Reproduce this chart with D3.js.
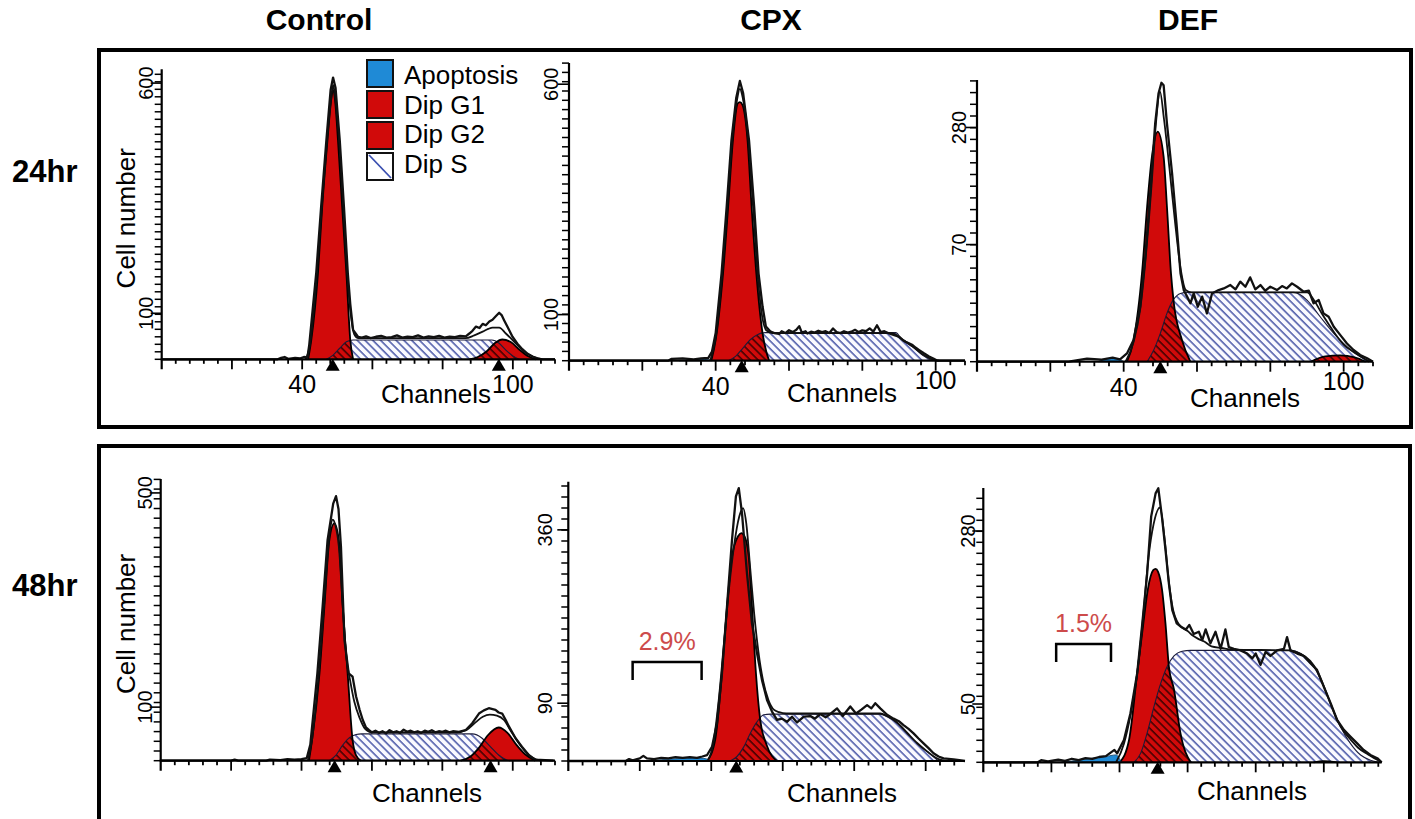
<!DOCTYPE html>
<html>
<head>
<meta charset="utf-8">
<script src="https://cdn.jsdelivr.net/npm/d3@7"></script>
<style>
  body { margin: 0; background: #fff; }
  text { font-family: Arial, "Liberation Sans", Helvetica, sans-serif; }
</style>
</head>
<body>
<div id="chart"></div>
<script>
// histogram data, [channel, cell number]

// Control 24hr
const ctl24G1 = [[41.7,0],[42.6,42],[44.5,187],[45.7,331],[47.2,476],[48.2,560],[48.8,585],[49.4,560],[50.2,476],[51.4,331],[52.6,187],[53.7,42],[54.5,0]];
const ctl24G2 = [[87.6,0],[90,5],[92.5,17],[95,36],[97,43],[99.5,37],[102,20],[104.5,6],[106.5,0]];
const ctl24S = [[46.9,0],[48.8,9],[50.7,24],[52.6,38],[54.5,42],[94,42],[96.1,35],[98,20],[99.9,8],[101.8,0]];
const ctl24Apop = [];
const ctl24Raw = [[0,0],[33,0],[34,3],[35,5],[36,1],[38,3],[39.5,2],[40.5,5],[41.5,4],[42,30],[44,187],[45.4,331],[46.9,476],[48.1,585],[48.8,612],[49.5,590],[50.7,476],[51.9,331],[53,187],[53.7,120],[54.5,64],[55.9,49],[57,47],[58.2,50],[59.5,46],[61,49],[62.5,51],[64,47],[65.5,48],[67,52],[68.5,47],[70,49],[71.5,48],[73,52],[74.5,47],[76,50],[77.5,48],[79,51],[80.5,47],[82,49],[83.5,48],[85,51],[86.6,50],[87.6,56],[88.5,62],[89.5,71],[90.5,68],[91.4,77],[92.3,74],[93.3,82],[94.2,86],[95.2,94],[96.1,101],[96.8,96],[97.5,85],[98.5,70],[99.9,49],[101.3,34],[102.7,22],[104.2,12],[105.6,6],[107,2],[108.4,0],[112,0]];
const ctl24Fit = [[41,0],[42.2,30],[44.2,187],[45.6,331],[47.1,476],[48.3,570],[48.8,596],[49.3,575],[50.5,476],[51.7,331],[52.8,187],[53.8,100],[54.8,55],[56,46],[86.6,46],[89,52],[91.4,60],[93,66],[94.2,69],[96.1,69],[98,56],[100.4,38],[102.7,20],[105.6,6],[108.4,0]];
const ctl24Marks = [48.7, 96];

// CPX 24hr
const cpx24G1 = [[38.8,0],[40,45],[42,189],[43.4,334],[44.7,478],[46,558],[46.6,561],[47.3,555],[48.7,478],[49.8,334],[51.1,189],[52.8,59],[53.8,20],[54.6,0]];
const cpx24G2 = [];
const cpx24S = [[43.5,0],[45.5,10],[47.5,28],[49.5,46],[51.5,57],[53.5,61],[89.1,61],[90.9,45],[93.7,30],[96.4,12],[99.1,0]];
const cpx24Apop = [[30,0],[33,2],[36,3],[38,2],[39,0]];
const cpx24Raw = [[0,0],[27,0],[28,4],[31,5],[34,3],[36,5],[38,6],[39,20],[40,60],[41.6,189],[43,334],[44.3,478],[45.6,570],[46.6,607],[47.5,580],[49.1,478],[50.5,334],[51.7,189],[52.8,117],[53.7,74],[55,63],[56,60],[57.3,58],[58,64],[59,60],[60,66],[61,62],[62,67],[62.8,75],[63.5,61],[64.5,64],[65,59],[66,63],[67,61],[68,65],[69,62],[70,64],[71,60],[72,70],[73,62],[74,60],[75,64],[76,61],[77,63],[78,67],[79,62],[80,66],[81,64],[82,70],[83,63],[84,77],[85,62],[86,64],[87.3,59],[88.5,56],[90,52],[91,45],[91.8,41],[92.7,38],[93.7,34],[94.6,28],[95.5,23],[96.8,16],[98.2,9],[99.5,4],[100.5,0],[108,0]];
const cpx24Fit = [[38.5,0],[40,50],[41.8,189],[43.2,334],[44.5,478],[45.8,565],[46.6,590],[47.4,570],[48.9,478],[50.2,334],[51.4,189],[52.6,100],[53.8,66],[55.5,60],[88,60],[90.9,46],[93.7,31],[96.4,14],[99.1,3],[101,0]];
const cpx24Marks = [47.1];

// DEF 24hr (sqrt axis)
const def24G1 = [[40.9,0],[42.7,2.4],[45,40],[46.4,123],[47.7,214],[49.3,270],[50.9,214],[51.8,123],[52.9,40],[53.6,19],[55.9,2.4],[58.2,0]];
const def24G2 = [[91,0],[95,0.15],[99,0.2],[103,0.1],[106,0]];
const def24S = [[46.4,0],[48.2,0.7],[50,4.1],[51.8,11.9],[53.6,19.8],[55.5,23.8],[57.3,24.5],[86.4,24.5],[90,19.4],[93.6,10.3],[97.3,4.1],[100.9,1.15],[104.5,0.13],[107.3,0]];
const def24Apop = [[33,0],[36,0.05],[38.5,0.04],[40,0]];
const def24Raw = [[0,0],[25,0],[30,0.05],[34,0.02],[37,0.08],[39,0.03],[40.9,0.35],[42.7,2.4],[44.5,15.4],[45.9,56],[47.3,150],[48.6,290],[49.5,367],[50.3,397],[50.9,390],[51.8,290],[53.2,181],[54.4,98],[55.5,40],[56.4,26],[57.3,21.6],[58.2,17.4],[59.1,23.8],[60.2,15.4],[61.4,21.6],[62.7,11.9],[64.1,23.8],[65.9,26.2],[67.3,27.4],[69.1,30],[70.5,26.7],[71.8,32.7],[73.2,28.7],[74.5,36.3],[75.9,26.7],[77.3,30],[78.6,25.7],[80,28.7],[81.8,26.2],[83.2,29.2],[84.5,27.4],[85.9,31.3],[87.3,28.7],[89.1,25],[90.5,25.7],[91.8,17.4],[93.2,19.4],[94.5,11.9],[95.9,10.3],[97.3,6.25],[99.1,3.6],[100.9,1.7],[102.7,0.7],[104.5,0.23],[106.4,0.06],[108,0]];
const def24Fit = [[40.5,0],[42.7,2],[44.5,14],[46,55],[47.5,150],[48.8,290],[49.9,372],[51,300],[52.5,190],[54,100],[55.5,45],[57,26],[58.5,24.5],[90,24.5],[92,19],[94,12],[96,7],[98,3.5],[100,1.5],[103,0.4],[107,0]];
const def24Marks = [50];

// Control 48hr
const ctl48G1 = [[42.1,0],[43,39],[45.1,163],[46.5,288],[47.9,412],[49.3,443],[50.6,412],[51.7,288],[53.1,163],[54.5,39],[55.5,10],[56.9,0]];
const ctl48G2 = [[85.2,0],[88,8],[90.5,25],[93,48],[96,62],[98.5,52],[101,30],[103.5,12],[106.4,0]];
const ctl48S = [[47.9,0],[49.8,10.6],[51.7,29],[53.6,43],[55.5,49],[57,50],[88.5,50],[91.3,42],[93.7,26],[96,10.6],[98.4,1],[99.3,0]];
const ctl48Apop = [];
const ctl48Raw = [[0,0],[20,0],[21,2],[22,0],[30,0],[31,2],[34,1],[36,3],[38,2],[40,3],[41.5,5],[42.5,30],[44.5,163],[46,288],[47.4,412],[49,480],[49.8,494],[50.5,470],[51.2,400],[52.2,225],[53.4,163],[54.5,157],[55.5,120],[56.5,95],[57.4,76],[58.3,62],[59.2,57],[60,53],[61,56],[62,52],[63,55],[64,51],[65,57],[66,53],[67,55],[68,52],[69,58],[70,54],[71,56],[72,53],[73,55],[74,52],[75,56],[76,54],[77,57],[78,53],[79,55],[80,54],[81,56],[82,53],[83,55],[84.7,54],[86.6,57],[88.5,70],[90.4,88],[91.8,94],[93.2,98],[95.1,95],[96,90],[97,88],[98,76],[98.9,64],[100.8,42],[102.6,26],[104.5,11],[106.4,2],[109.2,1],[111.6,0]];
const ctl48Fit = [[41.8,0],[43,40],[45,170],[46.5,300],[47.9,420],[48.9,450],[49.6,440],[50.6,400],[51.7,290],[52.8,190],[53.8,150],[55,110],[56.5,80],[58,60],[60,53],[84,53],[87,58],[89.5,72],[91.5,82],[93.5,86],[95.5,84],[97.5,76],[99.5,55],[101.5,35],[103.5,18],[105.5,6],[108,0]];
const ctl48Marks = [49.4, 93.7];

// CPX 48hr
const cpx48G1 = [[38.8,0],[41.1,33],[43,137],[44.4,240],[45.8,318],[47.5,350],[48.4,355],[49.3,350],[50.5,318],[51.4,240],[52.5,137],[53.7,64],[55.5,25],[58.4,0]];
const cpx48G2 = [];
const cpx48S = [[45.3,0],[47.2,7],[49.1,22],[50.9,43],[52.8,61],[54.7,72],[56.5,73],[87.3,73],[89.2,69],[92,59],[94.8,43],[97.6,27.5],[100.4,14.5],[103.6,0]];
const cpx48Apop = [[22,0],[26,2],[30,3.5],[34,4.5],[37,4.5],[38.8,3],[39.5,0]];
const cpx48Raw = [[0,0],[16,0],[17,3],[18,1],[20,4],[21,8],[22,4],[24,3],[26,5],[28,4],[30,6],[32,5],[34,6],[36,5],[37.5,7],[38.8,9],[40.2,22],[41.6,59],[43,137],[44.4,240],[45.8,344],[46.9,412],[47.7,425],[48.6,386],[50,292],[51.4,214],[52.8,168],[54.2,126],[55.6,95],[57,77],[58.4,64],[59.8,66],[61.2,61],[62.6,69],[64,60],[65.9,69],[67.7,70],[69,66],[70.5,73],[72,68],[73.5,74],[75.2,82],[76.8,70],[78.9,85],[80.5,74],[82,80],[83.6,87],[84.8,82],[85.9,90],[87.3,82],[89.2,72],[91,66],[92.5,62],[93.8,56],[95.2,50],[96.6,43],[98,35],[99.4,27.5],[100.8,20],[102.2,12],[103.6,7],[105,4],[107.8,2.6],[111,0]];
const cpx48Fit = [[39,0],[40.5,25],[42,90],[43.5,180],[45,270],[46.5,340],[47.8,380],[48.9,394],[49.8,370],[50.9,300],[52,230],[53.2,170],[54.5,125],[56,95],[57.5,80],[59,76],[61,74],[87.3,74],[89.2,70],[92,60],[94.8,44],[97.6,28],[100.4,15],[103.6,3],[106,0]];
const cpx48Marks = [47];

// DEF 48hr (power axis)
const def48G1 = [[40.1,0],[42.8,15],[45.2,85],[47,148],[48.3,194],[49.9,222],[50.6,224],[51.3,220],[52.5,194],[53.5,148],[54.5,93],[56,66],[57.9,21],[60.9,0]];
const def48G2 = [[97,0],[100,0.4],[104,0]];
const def48S = [[44.2,0],[46.2,4.8],[48.1,21],[50.1,47],[52.1,73],[54,93],[56,106],[58.4,112],[60.9,113],[90.2,113],[93.2,109],[95.6,101],[97.6,89],[100,69],[102.4,47],[104.9,27],[107.8,12.3],[110.8,3.7],[113.7,0.8],[116.1,0]];
const def48Apop = [[23,0],[28,0.8],[32,1.8],[36,2.8],[39,3.8],[40.5,0]];
const def48Raw = [[0,0],[16,0],[17,0.8],[19,0.3],[22,1],[24,0.5],[26,1.5],[28,0.8],[30,1.8],[32,1.5],[34,2.5],[36,3],[37.5,5.5],[38.5,7.2],[39.3,4.8],[41.3,15],[43.2,40],[45.2,85],[46.7,148],[48.1,216],[49.3,302],[50.6,338],[51.4,346],[52.5,300],[53.5,252],[54.5,203],[55.5,166],[56.8,148],[57.9,144],[59.5,140],[60.5,146],[61.8,134],[63.3,137],[64.3,126],[65.3,140],[66.7,122],[68.2,137],[69.7,115],[71.1,140],[72.1,117],[73.6,115],[75.5,113],[77.5,109],[79,103],[80,109],[81.4,95],[82.9,111],[84.3,106],[86.3,113],[88.3,115],[89.2,130],[90.2,113],[92.2,109],[94.1,106],[96.1,97],[98,89],[100,69],[102,51],[103.9,33.5],[105.9,24],[107.8,18],[109.8,12.3],[111.7,7.2],[113.7,3.75],[115.7,1.8],[117,0]];
const def48Fit = [[39,0],[41.3,12],[43.2,38],[45.2,85],[47,160],[48.5,240],[50,290],[51.9,316],[53.2,270],[54.5,205],[55.8,165],[57,150],[58.5,142],[60,138],[61.5,132],[63,128],[65,124],[67,118],[70,116],[73,114],[90,113],[93,109],[96,100],[98,88],[100,70],[102,50],[104,33],[106,22],[108,15],[110,9],[113,4],[117,0]];
const def48Marks = [51.2];

const colHeads = ["Control", "CPX", "DEF"];
const rowHeads = ["24hr", "48hr"];
const legendLabels = ["Apoptosis", "Dip G1", "Dip G2", "Dip S"];
const yTickLabels = [[100, 600], [100, 600], [70, 280], [100, 500], [90, 360], [50, 280]];
const xTickLabels = [[40, 100], [40, 100], [40, 100], [], [], []];
const xMaxes = [112, 108, 108, 112, 111, 117];
const yMaxes = [630, 646, 405, 526, 435, 346.5];
const yExps = [1, 1, 0.5, 1, 1, 0.8];
const apopPct = ["", "", "", "", "2.9%", "1.5%"];
const apopBracket = [null, null, null, null, [18, 37.3, 154], [21.4, 37.5, 121]];

const panels = [
  {g1: ctl24G1, g2: ctl24G2, s: ctl24S, apop: ctl24Apop, raw: ctl24Raw, fit: ctl24Fit, marks: ctl24Marks},
  {g1: cpx24G1, g2: cpx24G2, s: cpx24S, apop: cpx24Apop, raw: cpx24Raw, fit: cpx24Fit, marks: cpx24Marks},
  {g1: def24G1, g2: def24G2, s: def24S, apop: def24Apop, raw: def24Raw, fit: def24Fit, marks: def24Marks},
  {g1: ctl48G1, g2: ctl48G2, s: ctl48S, apop: ctl48Apop, raw: ctl48Raw, fit: ctl48Fit, marks: ctl48Marks},
  {g1: cpx48G1, g2: cpx48G2, s: cpx48S, apop: cpx48Apop, raw: cpx48Raw, fit: cpx48Fit, marks: cpx48Marks},
  {g1: def48G1, g2: def48G2, s: def48S, apop: def48Apop, raw: def48Raw, fit: def48Fit, marks: def48Marks}
];

// where each little histogram sits on the page
const layout = [
  {x0: 161.7, x1: 555,    yb: 359.3, yt: 69.3,  gap: 7.5,  labGap: 9,  chan: [436, 403],  xDy: [34, 34]},
  {x0: 569,   x1: 965,    yb: 360.7, yt: 63,    gap: 9.3,  labGap: 11, chan: [842, 402],  xDy: [34, 28]},
  {x0: 977,   x1: 1373,   yb: 361.7, yt: 80,    gap: 11.7, labGap: 11, chan: [1245, 407], xDy: [34, 28]},
  {x0: 160.7, x1: 555,    yb: 760.7, yt: 479,   gap: 9.7,  labGap: 9,  chan: [427, 802]},
  {x0: 568.3, x1: 965,    yb: 761,   yt: 481.7, gap: 11,   labGap: 16, chan: [842, 802]},
  {x0: 983.3, x1: 1381.7, yb: 762.3, yt: 488,   gap: 11,   labGap: 8,  chan: [1252, 800]}
];

const RED = "#d10a0a", BLUE = "#1f8ad6";

const svg = d3.select("#chart").append("svg")
    .attr("width", 1415)
    .attr("height", 819);
const defs = svg.append("defs");

function hatch(id, color, bg, w) {
  const p = defs.append("pattern")
      .attr("id", id)
      .attr("patternUnits", "userSpaceOnUse")
      .attr("width", 5.5).attr("height", 5.5)
      .attr("patternTransform", "rotate(-45)");
  if (bg) p.append("rect").attr("width", 5.5).attr("height", 5.5).attr("fill", bg);
  p.append("line")
      .attr("x1", 1).attr("y1", 0).attr("x2", 1).attr("y2", 5.5)
      .attr("stroke", color).attr("stroke-width", w);
}
hatch("hatch-blue", "#3b4aa0", "#fafaff", 1.4);
hatch("hatch-dark", "#220000", null, 1.3);

// the two row frames
svg.append("rect")
    .attr("x", 99).attr("y", 50).attr("width", 1312).attr("height", 377)
    .attr("fill", "none").attr("stroke", "#000").attr("stroke-width", 4);
svg.append("rect")
    .attr("x", 99).attr("y", 446).attr("width", 1311).attr("height", 400)
    .attr("fill", "none").attr("stroke", "#000").attr("stroke-width", 4);

// headers
svg.selectAll("text.col")
  .data(colHeads)
  .join("text")
    .attr("class", "col")
    .attr("x", (d, i) => [319, 771, 1188][i])
    .attr("y", 30)
    .attr("text-anchor", "middle")
    .attr("font-size", "30px")
    .attr("font-weight", "bold")
    .text(d => d);

svg.selectAll("text.row")
  .data(rowHeads)
  .join("text")
    .attr("class", "row")
    .attr("x", 12)
    .attr("y", (d, i) => [182, 596][i])
    .attr("font-size", "31px")
    .attr("font-weight", "bold")
    .text(d => d);

panels.forEach((p, i) => {
  const L = layout[i];
  const x = d3.scaleLinear().domain([0, xMaxes[i]]).range([L.x0, L.x1]);
  const y = d3.scalePow().exponent(yExps[i]).domain([0, yMaxes[i]]).range([L.yb, L.yt]);
  const g = svg.append("g");

  const area = d3.area()
      .x(d => x(d[0]))
      .y0(y(0))
      .y1(d => y(d[1]))
      .curve(d3.curveMonotoneX);
  const smooth = d3.line().x(d => x(d[0])).y(d => y(d[1])).curve(d3.curveMonotoneX);
  const jagged = d3.line().x(d => x(d[0])).y(d => y(d[1]));

  // S phase, blue hatch
  g.append("path")
      .attr("d", area(p.s))
      .attr("fill", "url(#hatch-blue)");

  // G1 / G2 red peaks
  const peaks = [p.g1, p.g2].filter(a => a.length);
  g.selectAll("path.peak")
    .data(peaks)
    .join("path")
      .attr("class", "peak")
      .attr("d", area)
      .attr("fill", RED);

  // where S sits under the red peaks it is hatched dark
  const cp = defs.append("clipPath").attr("id", "red-" + i);
  peaks.forEach(a => cp.append("path").attr("d", area(a)));
  g.append("path")
      .attr("d", area(p.s))
      .attr("fill", "url(#hatch-dark)")
      .attr("clip-path", `url(#red-${i})`);

  g.append("path")
      .attr("d", smooth(p.s))
      .attr("fill", "none").attr("stroke", "#1c1c3a").attr("stroke-width", 1.1);
  g.selectAll("path.peakline")
    .data(peaks)
    .join("path")
      .attr("class", "peakline")
      .attr("d", smooth)
      .attr("fill", "none").attr("stroke", "#000").attr("stroke-width", 1.8);

  if (p.apop.length) {
    g.append("path")
        .attr("d", area(p.apop))
        .attr("fill", BLUE).attr("stroke", "#0d3d66").attr("stroke-width", 0.8);
  }

  // measured histogram and fitted total
  g.append("path")
      .attr("d", smooth(p.fit))
      .attr("fill", "none").attr("stroke", "#111").attr("stroke-width", 1.8);
  g.append("path")
      .attr("d", jagged(p.raw))
      .attr("fill", "none").attr("stroke", "#111").attr("stroke-width", 2.3)
      .attr("stroke-linejoin", "round");

  // axes
  g.append("line")
      .attr("x1", L.x0 - 1).attr("x2", L.x1).attr("y1", L.yb).attr("y2", L.yb)
      .attr("stroke", "#000").attr("stroke-width", 2.2);
  g.append("line")
      .attr("x1", L.x0).attr("x2", L.x0).attr("y1", L.yb + 10).attr("y2", L.yt)
      .attr("stroke", "#000").attr("stroke-width", 2.2);

  g.selectAll("line.xt")
    .data(d3.range(4, xMaxes[i] + 0.01, 4))
    .join("line")
      .attr("class", "xt")
      .attr("x1", d => x(d)).attr("x2", d => x(d))
      .attr("y1", L.yb)
      .attr("y2", d => L.yb + (d % 20 === 0 ? 10 : 4.5))
      .attr("stroke", "#000").attr("stroke-width", 1.8);

  g.selectAll("line.yt")
    .data(d3.range(L.yb, L.yt, -L.gap))
    .join("line")
      .attr("class", "yt")
      .attr("x1", L.x0 - 7).attr("x2", L.x0)
      .attr("y1", d => d).attr("y2", d => d)
      .attr("stroke", "#000").attr("stroke-width", 1.5);

  g.selectAll("line.ym")
    .data(yTickLabels[i])
    .join("line")
      .attr("class", "ym")
      .attr("x1", L.x0 - 11).attr("x2", L.x0)
      .attr("y1", d => y(d)).attr("y2", d => y(d))
      .attr("stroke", "#000").attr("stroke-width", 1.6);

  g.selectAll("text.yl")
    .data(yTickLabels[i])
    .join("text")
      .attr("class", "yl")
      .attr("transform", d => `translate(${L.x0 - L.labGap},${y(d)}) rotate(-90)`)
      .attr("text-anchor", "middle")
      .attr("font-size", "20px")
      .text(d => d);

  g.selectAll("text.xl")
    .data(xTickLabels[i])
    .join("text")
      .attr("class", "xl")
      .attr("x", d => x(d))
      .attr("y", (d, k) => L.yb + L.xDy[k])
      .attr("text-anchor", "middle")
      .attr("font-size", "25px")
      .text(d => d);

  g.selectAll("path.mark")
    .data(p.marks)
    .join("path")
      .attr("class", "mark")
      .attr("d", d3.symbol().type(d3.symbolTriangle).size(85))
      .attr("transform", d => `translate(${x(d)},${L.yb + 7.5})`)
      .attr("fill", "#000");

  g.append("text")
      .attr("x", L.chan[0]).attr("y", L.chan[1])
      .attr("text-anchor", "middle")
      .attr("font-size", "26px")
      .text("Channels");

  if (i % 3 === 0) {
    g.append("text")
        .attr("transform", `translate(135,${(L.yb + L.yt) / 2 + 4}) rotate(-90)`)
        .attr("text-anchor", "middle")
        .attr("font-size", "26px")
        .text("Cell number");
  }

  const br = apopBracket[i];
  if (br) {
    const by = y(br[2]);
    g.append("path")
        .attr("d", `M${x(br[0])},${by + 18}V${by}H${x(br[1])}V${by + 18}`)
        .attr("fill", "none").attr("stroke", "#000").attr("stroke-width", 2.5);
    g.append("text")
        .attr("x", (x(br[0]) + x(br[1])) / 2)
        .attr("y", by - 12)
        .attr("text-anchor", "middle")
        .attr("font-size", "25px")
        .attr("fill", "#cd4b4b")
        .text(apopPct[i]);
  }
});

// legend inside the first panel
const legend = svg.append("g");
const legendFill = [BLUE, RED, RED, "#fff"];
legend.selectAll("rect")
  .data(legendLabels)
  .join("rect")
    .attr("x", 367)
    .attr("y", (d, i) => 60 + i * 31)
    .attr("width", 26).attr("height", 27)
    .attr("fill", (d, i) => legendFill[i])
    .attr("stroke", "#111").attr("stroke-width", 2);
legend.append("line")
    .attr("x1", 369).attr("y1", 155).attr("x2", 391).attr("y2", 178)
    .attr("stroke", "#3a4fb0").attr("stroke-width", 1.8);
legend.selectAll("text")
  .data(legendLabels)
  .join("text")
    .attr("x", 404)
    .attr("y", (d, i) => 84 + i * 29.5)
    .attr("font-size", "26px")
    .text(d => d);
</script>
</body>
</html>
